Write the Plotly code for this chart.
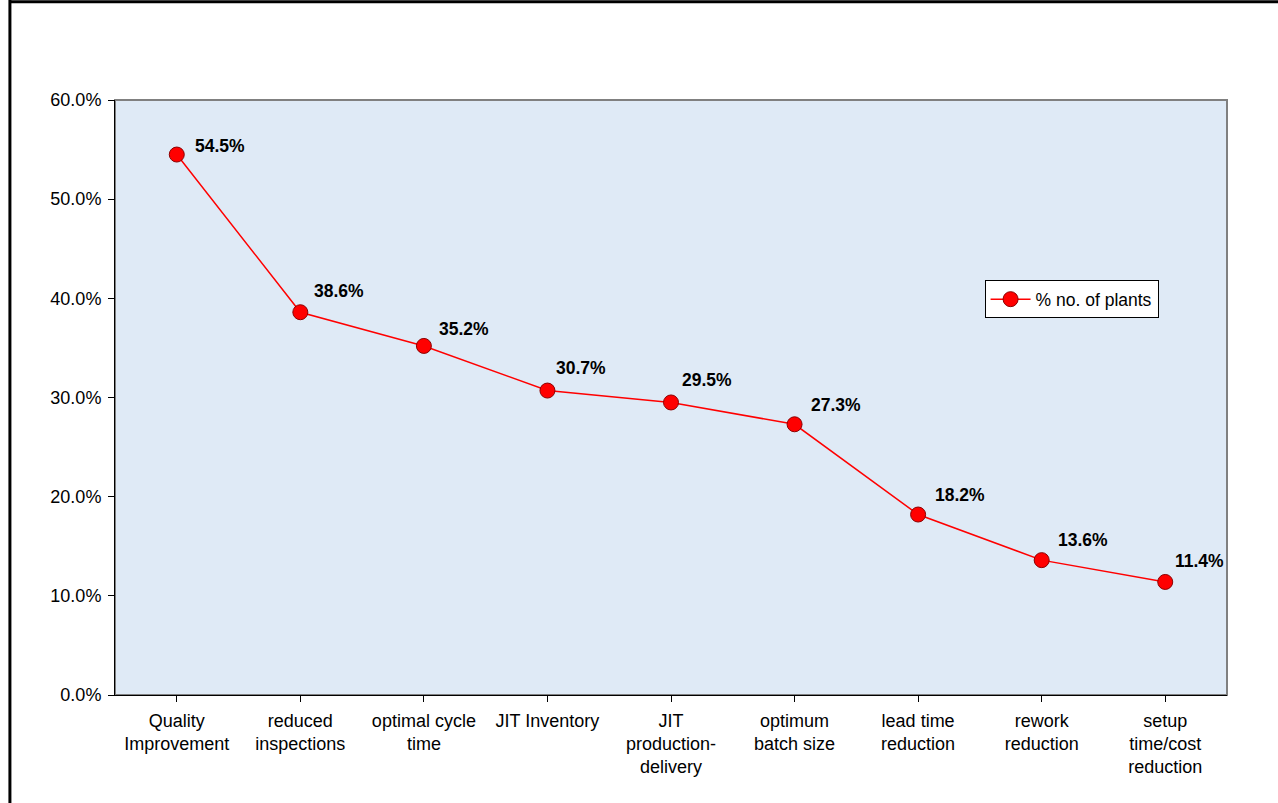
import plotly.graph_objects as go

# Share of plants reporting each benefit
categories = [
    "Quality<br>Improvement",
    "reduced<br>inspections",
    "optimal cycle<br>time",
    "JIT Inventory",
    "JIT<br>production-<br>delivery",
    "optimum<br>batch size",
    "lead time<br>reduction",
    "rework<br>reduction",
    "setup<br>time/cost<br>reduction",
]
pct_plants = [54.5, 38.6, 35.2, 30.7, 29.5, 27.3, 18.2, 13.6, 11.4]
y_ticks = [0, 10, 20, 30, 40, 50, 60]
y_tick_labels = [f"{v:.1f}%" for v in y_ticks]

# pixel offsets of each value label from its point (right, up)
label_dx = [16, 12, 13, 7, 9, 14, 15, 14, 8]
label_dy = [9, 21, 17, 23, 22, 19, 20, 20, 21]

FONT = "Liberation Sans, Arial, sans-serif"
FS = 18

fig = go.Figure()
fig.add_trace(go.Scatter(
    x=list(range(len(categories))),
    y=pct_plants,
    mode="lines+markers",
    name="% no. of plants",
    line=dict(color="#ff0000", width=1.5),
    marker=dict(size=15, color="#ff0000", line=dict(color="#8b0000", width=1)),
))

# value labels, up and to the right of each point
for i, v in enumerate(pct_plants):
    fig.add_annotation(
        x=i, y=v, text=f"<b>{v:.1f}%</b>", showarrow=False,
        xanchor="left", yanchor="middle",
        xshift=label_dx[i], yshift=label_dy[i],
        font=dict(family=FONT, size=17.5, color="#000000"),
    )

# plot-area frame (grey), axes drawn over it
fig.add_shape(type="rect", xref="paper", yref="paper", x0=0, y0=0, x1=1, y1=1,
              line=dict(color="#808080", width=2), layer="below")

# outer chart frame: left and top edges
fig.add_shape(type="line", xref="paper", yref="paper", x0=-0.0945, x1=-0.0945,
              y0=-0.2, y1=1.17, line=dict(color="#000000", width=3))
fig.add_shape(type="line", xref="paper", yref="paper", x0=-0.0945, x1=1.06,
              y0=1.165, y1=1.165, line=dict(color="#000000", width=3))

fig.update_layout(
    width=1278, height=803,
    margin=dict(l=115, r=51, t=100, b=108),
    paper_bgcolor="#ffffff",
    plot_bgcolor="#dfeaf6",
    font=dict(family=FONT, size=FS, color="#000000"),
    showlegend=True,
    legend=dict(
        x=0.782, y=0.697, xanchor="left", yanchor="top",
        bgcolor="#ffffff", bordercolor="#000000", borderwidth=1,
        font=dict(family=FONT, size=17.5, color="#000000"),
        itemwidth=40, tracegroupgap=0,
    ),
    xaxis=dict(
        range=[-0.5, len(categories) - 0.5],
        tickmode="array",
        tickvals=list(range(len(categories))),
        ticktext=categories,
        showgrid=False, zeroline=False,
        showline=True, linecolor="#000000", linewidth=1,
        ticks="outside", ticklen=6, tickcolor="#000000",
        tickfont=dict(family=FONT, size=FS),
        ticklabelstandoff=3,
        fixedrange=True,
    ),
    yaxis=dict(
        range=[0, 60],
        tickmode="array",
        tickvals=y_ticks,
        ticktext=y_tick_labels,
        showgrid=False, zeroline=False,
        showline=True, linecolor="#000000", linewidth=1,
        ticks="outside", ticklen=6, tickcolor="#000000",
        tickfont=dict(family=FONT, size=FS),
        ticklabelstandoff=3,
        fixedrange=True,
    ),
)

# ticks between categories on the x axis
fig.update_xaxes(tickson="boundaries")

fig.write_html("out.html")
